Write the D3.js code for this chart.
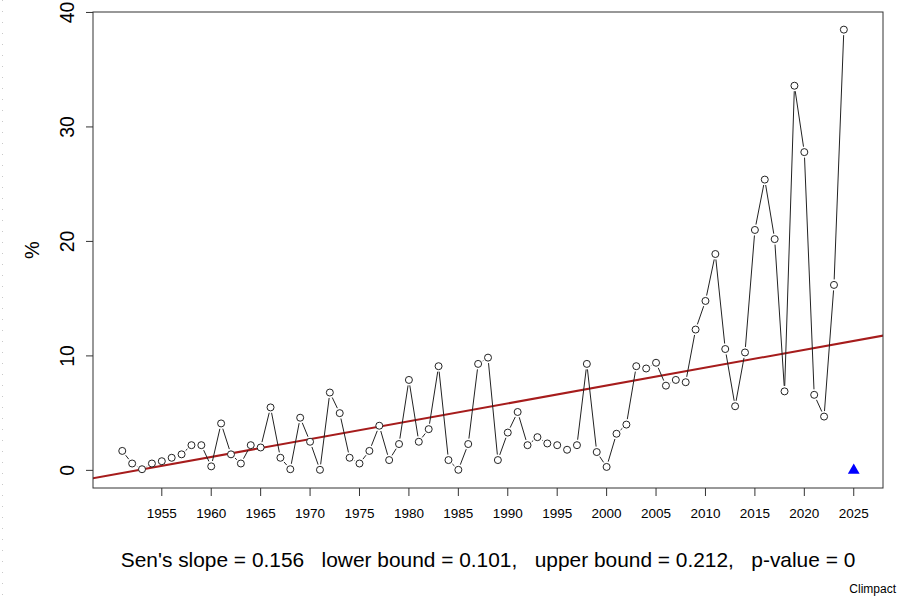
<!DOCTYPE html>
<html><head><meta charset="utf-8">
<script src="https://cdn.jsdelivr.net/npm/d3@7"></script>
<style>body{margin:0;background:#fff}svg{display:block}text{font-family:"Liberation Sans",Arial,sans-serif}</style>
</head><body><svg id="c" width="897" height="599"></svg>
<script>
const years = d3.range(1951, 2025);
const values = [1.7,0.6,0.1,0.6,0.8,1.1,1.4,2.2,2.2,0.35,
4.1,1.4,0.6,2.2,2.0,5.5,1.1,0.1,4.6,2.5,
0.05,6.8,5.0,1.1,0.6,1.7,3.9,0.9,2.3,7.9,
2.5,3.6,9.1,0.9,0.05,2.3,9.3,9.85,0.9,3.3,
5.1,2.2,2.9,2.35,2.2,1.8,2.2,9.3,1.6,0.3,
3.2,4.0,9.1,8.9,9.4,7.4,7.9,7.7,12.3,14.8,
18.9,10.6,5.6,10.3,21.0,25.4,20.2,6.9,33.6,27.8,
6.6,4.7,16.2,38.5];
const missingYear = 2025, missingValue = 0;
const xTicks = d3.range(1955, 2026, 5);
const yTicks = [0, 10, 20, 30, 40];
const senSlope = 0.156, senIntercept = -0.156 * 1952.5;
const subtitle = "Sen's slope = 0.156   lower bound = 0.101,   upper bound = 0.212,   p-value = 0";

const svg = d3.select("#c");
const L = 93, R = 883, T = 12, B = 488;
const x = d3.scaleLinear().domain([1948.04, 2027.96]).range([L, R]);
const y = d3.scaleLinear().domain([-1.54, 40.04]).range([B, T]);

// faint dotted left edge
svg.append("line").attr("x1",2.5).attr("x2",2.5).attr("y1",0).attr("y2",599)
  .attr("stroke","#c8c8c8").attr("stroke-dasharray","1,10");

svg.append("clipPath").attr("id","pc").append("rect")
  .attr("x",L).attr("y",T).attr("width",R-L).attr("height",B-T);

// trend line
svg.append("line").attr("clip-path","url(#pc)")
  .attr("x1", x(1940)).attr("y1", y(senIntercept + senSlope*1940))
  .attr("x2", x(2035)).attr("y2", y(senIntercept + senSlope*2035))
  .attr("stroke","#a61c1c").attr("stroke-width",2);

// segments with gaps (type="b")
const pts = years.map((yr,i)=>[x(yr), y(values[i])]);
const gap = 5.5;
const segs = svg.append("g");
for (let i=0;i<pts.length-1;i++){
  const [x1,y1]=pts[i],[x2,y2]=pts[i+1];
  const dx=x2-x1, dy=y2-y1, d=Math.hypot(dx,dy);
  if (d <= 2*gap) continue;
  const ux=dx/d, uy=dy/d;
  segs.append("line").attr("x1",x1+ux*gap).attr("y1",y1+uy*gap)
    .attr("x2",x2-ux*gap).attr("y2",y2-uy*gap)
    .attr("stroke","#222").attr("stroke-width",1);
}
svg.append("g").selectAll("circle").data(years).join("circle")
  .attr("cx",(d)=>x(d)).attr("cy",(d,i)=>y(values[i])).attr("r",3.5)
  .attr("fill","#fff").attr("stroke","#222").attr("stroke-width",1);

// missing marker triangle
const tx = x(missingYear), ty = y(missingValue);
svg.append("path").attr("d", d3.symbol(d3.symbolTriangle, 60)())
  .attr("transform",`translate(${tx},${ty})`).attr("fill","#0000ff");

// box
svg.append("rect").attr("x",L).attr("y",T).attr("width",R-L).attr("height",B-T)
  .attr("fill","none").attr("stroke","#333").attr("stroke-width",1);

// x axis
const xa = svg.append("g");
xTicks.forEach(t=>{
  xa.append("line").attr("x1",x(t)).attr("x2",x(t)).attr("y1",B).attr("y2",B+8).attr("stroke","#333");
  xa.append("text").attr("x",x(t)).attr("y",B+30).attr("text-anchor","middle")
    .attr("font-size",13.5).attr("fill","#000").text(t);
});
// y axis
const ya = svg.append("g");
yTicks.forEach(t=>{
  ya.append("line").attr("x1",L-7).attr("x2",L).attr("y1",y(t)).attr("y2",y(t)).attr("stroke","#333");
  ya.append("text").attr("transform",`translate(${L-19},${y(t)}) rotate(-90)`)
    .attr("text-anchor","middle").attr("font-size",19.5).attr("fill","#000").text(t);
});
svg.append("text").attr("transform",`translate(39,${(T+B)/2}) rotate(-90)`)
  .attr("text-anchor","middle").attr("font-size",20).attr("fill","#000").text("%");

svg.append("text").attr("x",488).attr("y",567).attr("text-anchor","middle")
  .attr("font-size",20.9).attr("fill","#000").style("white-space","pre").text(subtitle);
svg.append("text").attr("x",896).attr("y",593).attr("text-anchor","end")
  .attr("font-size",12).attr("fill","#000").text("Climpact");
</script></body></html>
